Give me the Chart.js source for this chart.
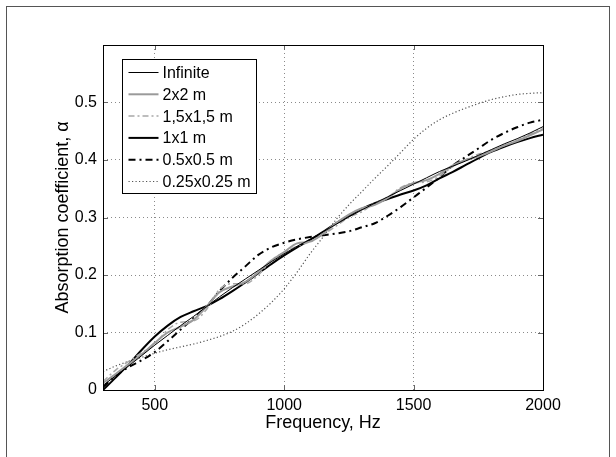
<!DOCTYPE html>
<html>
<head>
<meta charset="utf-8">
<script src="https://cdn.jsdelivr.net/npm/chart.js@4.4.1/dist/chart.umd.min.js"></script>
<style>
  body { margin: 0; background: #fff; }
  #wrap { width: 616px; height: 457px; }
</style>
</head>
<body>
<div id="wrap"><canvas id="chart" width="616" height="457"></canvas></div>
<script>
// frequency axis, Hz
const freqs = [300, 350, 400, 450, 500, 550, 600, 650, 700, 750, 800, 850, 900, 950, 1000, 1050, 1100, 1150,
  1200, 1250, 1300, 1350, 1400, 1450, 1500, 1550, 1600, 1650, 1700, 1750, 1800, 1850, 1900, 1950, 2000];

const infinite = [0.008, 0.025, 0.042, 0.06, 0.078, 0.095, 0.112, 0.128, 0.145, 0.162, 0.178, 0.193, 0.208, 0.223,
  0.237, 0.25, 0.262, 0.275, 0.288, 0.301, 0.313, 0.325, 0.336, 0.347, 0.358, 0.369, 0.38, 0.389, 0.398, 0.408,
  0.418, 0.428, 0.437, 0.447, 0.458];
const panel2x2 = [0.012, 0.028, 0.045, 0.062, 0.082, 0.1, 0.11, 0.122, 0.145, 0.17, 0.18, 0.188, 0.205, 0.225,
  0.24, 0.255, 0.258, 0.272, 0.29, 0.305, 0.316, 0.322, 0.334, 0.35, 0.36, 0.365, 0.376, 0.39, 0.4, 0.406,
  0.415, 0.425, 0.433, 0.443, 0.453];
const panel15 = [0.015, 0.035, 0.05, 0.065, 0.08, 0.105, 0.118, 0.12, 0.14, 0.175, 0.185, 0.185, 0.2, 0.225,
  0.24, 0.25, 0.258, 0.27, 0.285, 0.3, 0.31, 0.325, 0.335, 0.352, 0.36, 0.362, 0.372, 0.388, 0.4, 0.41,
  0.416, 0.425, 0.434, 0.445, 0.455];
const panel1x1 = [0.0, 0.022, 0.045, 0.07, 0.093, 0.112, 0.127, 0.137, 0.146, 0.158, 0.172, 0.187, 0.203, 0.219,
  0.234, 0.248, 0.261, 0.275, 0.29, 0.303, 0.315, 0.325, 0.332, 0.34, 0.347, 0.356, 0.368, 0.379, 0.391, 0.403,
  0.414, 0.423, 0.431, 0.438, 0.444];
const panel05 = [0.005, 0.025, 0.04, 0.052, 0.066, 0.085, 0.105, 0.125, 0.145, 0.172, 0.195, 0.215, 0.235, 0.248,
  0.256, 0.262, 0.266, 0.269, 0.272, 0.276, 0.283, 0.29, 0.303, 0.318, 0.335, 0.352, 0.37, 0.39, 0.405, 0.42,
  0.435, 0.447, 0.457, 0.465, 0.47];
const panel025 = [0.032, 0.042, 0.05, 0.057, 0.064, 0.07, 0.075, 0.08, 0.086, 0.093, 0.102, 0.115, 0.132, 0.152,
  0.176, 0.205, 0.237, 0.266, 0.296, 0.322, 0.345, 0.368, 0.39, 0.413, 0.436, 0.455, 0.47, 0.481, 0.49, 0.498,
  0.505, 0.51, 0.514, 0.516, 0.517];

const xTicks = [500, 1000, 1500, 2000];
const yTicks = [0, 0.1, 0.2, 0.3, 0.4, 0.5];

const FONT = "'Liberation Sans', Arial, Helvetica, sans-serif";

function series(label, values, color, width, dash) {
  return {
    label: label,
    data: freqs.map((f, i) => ({ x: f, y: values[i] })),
    borderColor: color,
    borderWidth: width,
    borderDash: dash,
    pointRadius: 0,
    fill: false,
    cubicInterpolationMode: "monotone",
  };
}

// legend box, axes frame, inner ticks, outer figure frame
const decorPlugin = {
  id: "decor",
  afterDraw(chart) {
    const ctx = chart.ctx;
    const ca = chart.chartArea;
    const xs = chart.scales.x;
    const ys = chart.scales.y;
    ctx.save();

    // inward tick marks
    ctx.strokeStyle = "#666";
    ctx.lineWidth = 1;
    ctx.setLineDash([]);
    ctx.beginPath();
    xTicks.forEach(v => {
      const px = Math.round(xs.getPixelForValue(v)) + 0.5;
      ctx.moveTo(px, ca.bottom); ctx.lineTo(px, ca.bottom - 5);
      ctx.moveTo(px, ca.top); ctx.lineTo(px, ca.top + 5);
    });
    yTicks.forEach(v => {
      const py = Math.round(ys.getPixelForValue(v)) + 0.5;
      ctx.moveTo(ca.left, py); ctx.lineTo(ca.left + 5, py);
      ctx.moveTo(ca.right, py); ctx.lineTo(ca.right - 5, py);
    });
    ctx.stroke();

    // axes box
    ctx.strokeStyle = "#000";
    ctx.strokeRect(Math.round(ca.left) + 0.5, Math.round(ca.top) + 0.5,
      Math.round(ca.right - ca.left), Math.round(ca.bottom - ca.top));

    // legend
    const lx = Math.round(ca.left + 19) + 0.5;
    const ly = Math.round(ca.top + 14) + 0.5;
    const lw = 134, lh = 134;
    ctx.fillStyle = "#fff";
    ctx.fillRect(lx, ly, lw, lh);
    ctx.strokeStyle = "#000";
    ctx.lineWidth = 1;
    ctx.strokeRect(lx, ly, lw, lh);
    ctx.font = "16px " + FONT;
    ctx.textBaseline = "middle";
    ctx.textAlign = "left";
    chart.data.datasets.forEach((ds, i) => {
      const cy = ly + 13 + i * 21.8;
      ctx.strokeStyle = ds.borderColor;
      ctx.lineWidth = ds.borderWidth;
      ctx.setLineDash(ds.borderDash || []);
      ctx.beginPath();
      ctx.moveTo(lx + 6, cy);
      ctx.lineTo(lx + 36, cy);
      ctx.stroke();
      ctx.setLineDash([]);
      ctx.fillStyle = "#000";
      ctx.fillText(ds.label, lx + 40, cy + 1);
    });

    // figure frame
    ctx.strokeStyle = "#555";
    ctx.lineWidth = 1;
    ctx.strokeRect(6.5, 6.5, 603, 470);
    ctx.restore();
  },
};

const ctx = document.getElementById("chart");
new Chart(ctx, {
  type: "line",
  data: {
    datasets: [
      series("Infinite", infinite, "#000", 1, []),
      series("2x2 m", panel2x2, "#9a9a9a", 2, []),
      series("1,5x1,5 m", panel15, "#a8a8a8", 1.5, [6, 3, 2, 3]),
      series("1x1 m", panel1x1, "#000", 2, []),
      series("0.5x0.5 m", panel05, "#000", 2, [7, 4, 2, 4]),
      series("0.25x0.25 m", panel025, "#555", 1.2, [1.2, 2.3]),
    ],
  },
  options: {
    responsive: false,
    animation: false,
    layout: { padding: { left: 0, top: 45, right: 73, bottom: 0 } },
    plugins: { legend: { display: false }, tooltip: { enabled: false } },
    scales: {
      x: {
        type: "linear",
        min: 300,
        max: 2000,
        afterBuildTicks: scale => { scale.ticks = xTicks.map(v => ({ value: v })); },
        afterFit: scale => { scale.height = 67; },
        grid: { color: "#8a8a8a", drawTicks: false },
        border: { display: false, dash: [1, 3] },
        ticks: {
          color: "#000", padding: 6, maxRotation: 0, font: { size: 16, family: FONT },
          callback: v => String(v),
        },
        title: {
          display: true, text: "Frequency, Hz", color: "#000",
          font: { size: 18, family: FONT }, padding: { top: 0, bottom: 23 },
        },
      },
      y: {
        min: 0,
        max: 0.6,
        afterBuildTicks: scale => { scale.ticks = yTicks.map(v => ({ value: v })); },
        afterFit: scale => { scale.width = 103; },
        grid: { color: "#8a8a8a", drawTicks: false },
        border: { display: false, dash: [1, 3] },
        ticks: {
          color: "#000", padding: 6, font: { size: 16, family: FONT },
          callback: v => (v === 0 ? "0" : v.toFixed(1)),
        },
        title: {
          display: true, text: "Absorption coefficient, α", color: "#000",
          font: { size: 18, family: FONT }, padding: { top: 52, bottom: 0 },
        },
      },
    },
  },
  plugins: [decorPlugin],
});
</script>
</body>
</html>
